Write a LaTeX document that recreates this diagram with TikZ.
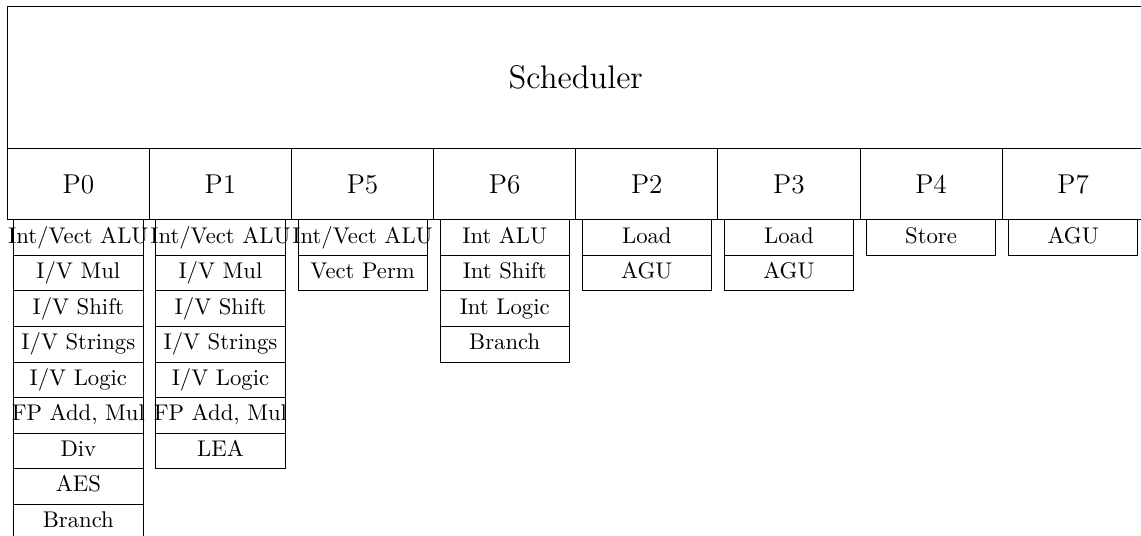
\documentclass[tikz,border=0pt]{standalone}
\usetikzlibrary{positioning}

\tikzset{
  sched/.style={draw, font=\Large, minimum width=17.6cm, minimum height=2.2cm, outer sep=0pt},
  port/.style={draw, font=\large, minimum width=2.2cm, minimum height=1.1cm, outer sep=0pt, inner sep=0pt},
  unit/.style={draw, minimum width=2cm, minimum height=0.55cm, outer sep=0pt, inner sep=0pt}
}
% centred text that may run over the box
\newcommand{\fu}[1]{\makebox[0pt]{\strut #1}}

\begin{document}
\begin{tikzpicture}
\useasboundingbox (-0.113,0.104) rectangle (17.55,-8.18);

% Scheduler
\node[sched, anchor=north west] (Sched) at (0,0) {Scheduler};

% Ports
\node[port, anchor=north west] (P0) at (Sched.south west) {P0};
\node[port, right=0pt of P0] (P1) {P1};
\node[port, right=0pt of P1] (P5) {P5};
\node[port, right=0pt of P5] (P6) {P6};
\node[port, right=0pt of P6] (P2) {P2};
\node[port, right=0pt of P2] (P3) {P3};
\node[port, right=0pt of P3] (P4) {P4};
\node[port, right=0pt of P4] (P7) {P7};

% Units of P0
\node[unit, below=0pt of P0]   (P0a) {\fu{Int/Vect ALU}};
\node[unit, below=0pt of P0a]  (P0b) {\fu{I/V Mul}};
\node[unit, below=0pt of P0b]  (P0c) {\fu{I/V Shift}};
\node[unit, below=0pt of P0c]  (P0d) {\fu{I/V Strings}};
\node[unit, below=0pt of P0d]  (P0e) {\fu{I/V Logic}};
\node[unit, below=0pt of P0e]  (P0f) {\fu{FP Add, Mul}};
\node[unit, below=0pt of P0f]  (P0g) {\fu{Div}};
\node[unit, below=0pt of P0g]  (P0h) {\fu{AES}};
\node[unit, below=0pt of P0h]  (P0i) {\fu{Branch}};

% Units of P1
\node[unit, below=0pt of P1]   (P1a) {\fu{Int/Vect ALU}};
\node[unit, below=0pt of P1a]  (P1b) {\fu{I/V Mul}};
\node[unit, below=0pt of P1b]  (P1c) {\fu{I/V Shift}};
\node[unit, below=0pt of P1c]  (P1d) {\fu{I/V Strings}};
\node[unit, below=0pt of P1d]  (P1e) {\fu{I/V Logic}};
\node[unit, below=0pt of P1e]  (P1f) {\fu{FP Add, Mul}};
\node[unit, below=0pt of P1f]  (P1g) {\fu{LEA}};

% Units of P5
\node[unit, below=0pt of P5]   (P5a) {\fu{Int/Vect ALU}};
\node[unit, below=0pt of P5a]  (P5b) {\fu{Vect Perm}};

% Units of P6
\node[unit, below=0pt of P6]   (P6a) {\fu{Int ALU}};
\node[unit, below=0pt of P6a]  (P6b) {\fu{Int Shift}};
\node[unit, below=0pt of P6b]  (P6c) {\fu{Int Logic}};
\node[unit, below=0pt of P6c]  (P6d) {\fu{Branch}};

% Units of P2, P3
\node[unit, below=0pt of P2]   (P2a) {\fu{Load}};
\node[unit, below=0pt of P2a]  (P2b) {\fu{AGU}};
\node[unit, below=0pt of P3]   (P3a) {\fu{Load}};
\node[unit, below=0pt of P3a]  (P3b) {\fu{AGU}};

% Units of P4, P7
\node[unit, below=0pt of P4]   (P4a) {\fu{Store}};
\node[unit, below=0pt of P7]   (P7a) {\fu{AGU}};

\end{tikzpicture}
\end{document}
